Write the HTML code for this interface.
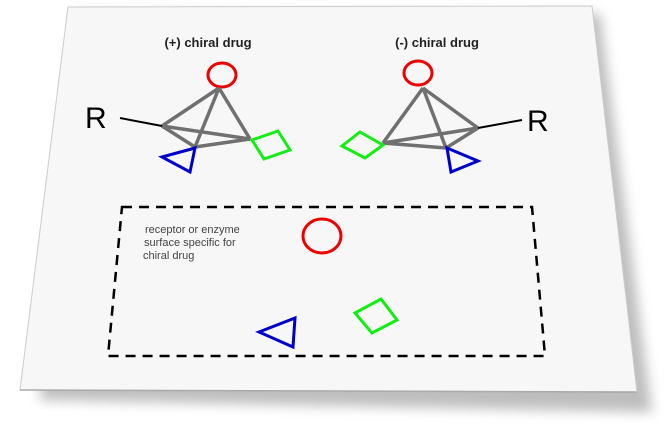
<!DOCTYPE html>
<html><head><style>body{margin:0;background:#fff}svg{display:block}</style></head><body>
<svg width="666" height="426" xmlns="http://www.w3.org/2000/svg" font-family="Liberation Sans, sans-serif">
<defs><filter id="b" x="-20%" y="-20%" width="140%" height="140%"><feGaussianBlur stdDeviation="6"/></filter></defs>
<polygon points="78,14 600,14 652,412 40,400" fill="#888" opacity="0.55" filter="url(#b)"/>
<polygon points="68,7 592,6 637,392 20,390" fill="#f7f7f7" stroke="#ccc" stroke-width="1"/>
<line x1="20" y1="390" x2="637" y2="392" stroke="#aaa" stroke-width="1.5"/>
<text x="208" y="47" font-size="13" font-weight="bold" text-anchor="middle" fill="#222">(+) chiral drug</text>
<text x="437" y="47" font-size="13" font-weight="bold" text-anchor="middle" fill="#222">(-) chiral drug</text>
<g stroke-width="3" fill="none">
<ellipse cx="222" cy="75" rx="14" ry="12" stroke="#e00"/>
<g stroke="#707070" stroke-width="3.5">
<line x1="219" y1="88" x2="162" y2="126"/><line x1="219" y1="88" x2="195" y2="147"/><line x1="219" y1="88" x2="250" y2="139"/>
<line x1="162" y1="126" x2="195" y2="147"/><line x1="162" y1="126" x2="250" y2="139"/><line x1="195" y1="147" x2="250" y2="139"/>
</g>
<line x1="120" y1="118" x2="162" y2="126" stroke="#000" stroke-width="2"/>
<polygon points="162,157 195,148 190,172" stroke="#00c"/>
<polygon points="252,140 278,131 290,150 264,159" stroke="#1e1"/>
<ellipse cx="418" cy="73" rx="14" ry="12" stroke="#e00"/>
<g stroke="#707070" stroke-width="3.5">
<line x1="423" y1="88" x2="478" y2="128"/><line x1="423" y1="88" x2="383" y2="143"/><line x1="423" y1="88" x2="446" y2="148"/>
<line x1="383" y1="143" x2="478" y2="128"/><line x1="383" y1="143" x2="446" y2="148"/><line x1="446" y1="148" x2="478" y2="128"/>
</g>
<line x1="478" y1="128" x2="522" y2="120" stroke="#000" stroke-width="2"/>
<polygon points="447,148 478,161 451,172" stroke="#00c"/>
<polygon points="342,146 360,132 383,145 365,158" stroke="#1e1"/>
<polygon points="122,207 532,207 545,356 108,356" stroke="#000" stroke-width="2.5" stroke-dasharray="10,7"/>
<ellipse cx="322" cy="236" rx="19" ry="17" stroke="#e00"/>
<polygon points="259,332 295,318 293,347" stroke="#00c"/>
<polygon points="355,313 381,299 397,320 372,333" stroke="#1e1"/>
</g>
<text x="85" y="128" font-size="30" fill="#000">R</text>
<text x="527" y="131" font-size="30" fill="#000">R</text>
<g font-size="11" fill="#444">
<text x="145" y="233">receptor or enzyme</text>
<text x="144" y="246">surface specific for</text>
<text x="143" y="259">chiral drug</text>
</g>
</svg>
</body></html>
